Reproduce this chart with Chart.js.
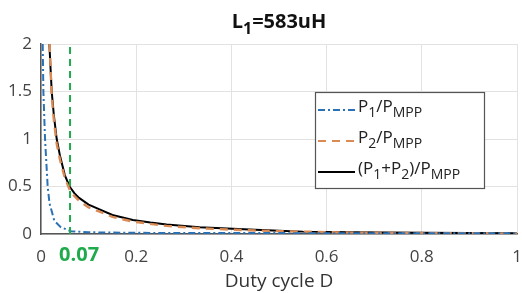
<!DOCTYPE html>
<html>
<head>
<meta charset="utf-8">
<script src="https://cdn.jsdelivr.net/npm/chart.js@4/dist/chart.umd.min.js"></script>
<style>
  html, body { margin: 0; padding: 0; background: #fff; }
  #wrap { width: 522px; height: 293px; }
</style>
</head>
<body>
<div id="wrap"><canvas id="graph" width="522" height="293"></canvas></div>
<script>
// Данные
const xTicks = [0, 0.2, 0.4, 0.6, 0.8, 1];
const yTicks = [0, 0.5, 1, 1.5, 2];
const markD = 0.061;      // зелёная пунктирная линия
const markLabel = '0.07';

const dP1 = [0.0036, 0.005, 0.0085, 0.014, 0.018, 0.028, 0.042, 0.063, 0.1, 0.2, 0.4, 0.7, 1.0];
const vP1 = [2.0, 1.5, 1.0, 0.5, 0.32, 0.14, 0.07, 0.03, 0.018, 0.012, 0.01, 0.008, 0.007];

const dP2 = [0.018, 0.0225, 0.027, 0.033, 0.04, 0.05, 0.06, 0.07, 0.08, 0.1, 0.123, 0.15, 0.193, 0.264, 0.333, 0.403, 0.5, 0.65, 0.8, 1.0];
const vP2 = [2.0, 1.45, 1.2, 0.95, 0.78, 0.59, 0.47, 0.4, 0.35, 0.28, 0.235, 0.18, 0.13, 0.085, 0.06, 0.045, 0.03, 0.015, 0.01, 0.006];

const dSum = [0.0176, 0.02, 0.0225, 0.027, 0.033, 0.04, 0.05, 0.06, 0.07, 0.08, 0.1, 0.123, 0.15, 0.193, 0.23, 0.264, 0.333, 0.403, 0.45, 0.5, 0.55, 0.65, 0.8, 1.0];
const vSum = [2.0, 1.75, 1.5, 1.25, 1.0, 0.82, 0.62, 0.5, 0.43, 0.38, 0.31, 0.26, 0.2, 0.148, 0.12, 0.1, 0.07, 0.055, 0.045, 0.035, 0.025, 0.018, 0.012, 0.008];

const FONT = "'Open Sans', 'Noto Sans', sans-serif";
const BLUE = '#2a72b5';
const ORANGE = '#d98a55';
const GREEN = '#1faa4c';

const pts = (xs, ys) => xs.map((x, i) => ({ x: x, y: ys[i] }));

// Текст с нижними индексами: [[текст, индекс?], ...]
function setFont(ctx, size, sub, bold) {
    ctx.font = (bold ? 'bold ' : '') + Math.round(sub ? size * 0.8 : size) + 'px ' + FONT;
}
function richWidth(ctx, parts, size, bold) {
    let w = 0;
    parts.forEach(p => {
        setFont(ctx, size, p[1], bold);
        w += ctx.measureText(p[0]).width;
    });
    return w;
}
function drawRich(ctx, parts, x, y, size, color, bold) {
    ctx.fillStyle = color;
    ctx.textBaseline = 'alphabetic';
    ctx.textAlign = 'left';
    parts.forEach(p => {
        setFont(ctx, size, p[1], bold);
        ctx.fillText(p[0], x, p[1] ? y + size * 0.32 : y);
        x += ctx.measureText(p[0]).width;
    });
}

const titleParts = [['L'], ['1', true], ['=583uH']];
const legendItems = [
    { parts: [['P'], ['1', true], ['/P'], ['MPP', true]], color: BLUE, dash: [7, 3, 2, 3] },
    { parts: [['P'], ['2', true], ['/P'], ['MPP', true]], color: ORANGE, dash: [8, 6] },
    { parts: [['(P'], ['1', true], ['+P'], ['2', true], [')/P'], ['MPP', true]], color: '#000', dash: [] }
];

const decorPlugin = {
    id: 'decor',
    afterDraw(chart) {
        const ctx = chart.ctx;
        const area = chart.chartArea;
        const xs = chart.scales.x;
        ctx.save();
        // заголовок
        const tw = richWidth(ctx, titleParts, 20, true);
        drawRich(ctx, titleParts, (area.left + area.right) / 2 - tw / 2, 28, 20, '#111', true);

        // зелёная подпись 0.07
        ctx.font = 'bold 20px ' + FONT;
        ctx.fillStyle = GREEN;
        ctx.textAlign = 'center';
        ctx.textBaseline = 'alphabetic';
        ctx.fillText(markLabel, xs.getPixelForValue(0.08), 261);

        // легенда
        const bx = area.left + 274, by = area.top + 48, bw = 169, bh = 96;
        ctx.fillStyle = '#fff';
        ctx.fillRect(bx, by, bw, bh);
        ctx.strokeStyle = '#555';
        ctx.lineWidth = 1.2;
        ctx.strokeRect(bx + 0.5, by + 0.5, bw, bh);
        legendItems.forEach((it, i) => {
            const ly = by + 18 + i * 31;
            ctx.beginPath();
            ctx.setLineDash(it.dash);
            ctx.strokeStyle = it.color;
            ctx.lineWidth = 2;
            ctx.moveTo(bx + 3, ly);
            ctx.lineTo(bx + 40, ly);
            ctx.stroke();
            ctx.setLineDash([]);
            drawRich(ctx, it.parts, bx + 43, ly + 2, 17, '#222', false);
        });
        ctx.restore();
    }
};

new Chart(document.getElementById('graph'), {
    type: 'line',
    data: {
        datasets: [
            {
                label: 'mark',
                data: [{ x: markD, y: 0 }, { x: markD, y: 2 }],
                borderColor: GREEN,
                borderWidth: 2,
                borderDash: [7, 5],
                pointRadius: 0
            },
            {
                label: 'P1/PMPP',
                data: pts(dP1, vP1),
                borderColor: BLUE,
                borderWidth: 2,
                borderDash: [7, 3, 2, 3],
                pointRadius: 0
            },
            {
                label: 'P2/PMPP',
                data: pts(dP2, vP2),
                borderColor: ORANGE,
                borderWidth: 2.4,
                borderDash: [8, 6],
                pointRadius: 0
            },
            {
                label: '(P1+P2)/PMPP',
                data: pts(dSum, vSum),
                borderColor: '#000',
                borderWidth: 2,
                pointRadius: 0
            }
        ]
    },
    options: {
        responsive: false,
        animation: false,
        layout: { padding: { top: 44, right: 5, left: 0, bottom: 0 } },
        scales: {
            x: {
                type: 'linear',
                min: 0,
                max: 1,
                afterBuildTicks: s => { s.ticks = xTicks.map(v => ({ value: v })); },
                afterFit: s => { s.height = 59; s.paddingLeft = 0; s.paddingRight = 0; },
                ticks: {
                    color: '#444',
                    font: { family: FONT, size: 17 },
                    maxRotation: 0,
                    padding: 13,
                    callback: v => String(v)
                },
                grid: { color: '#e2e2e2', drawTicks: false },
                border: { color: '#555', width: 1.5 },
                title: {
                    display: true,
                    text: 'Duty cycle D',
                    color: '#333',
                    font: { family: FONT, size: 19 },
                    padding: { top: 0, bottom: 0 }
                }
            },
            y: {
                min: 0,
                max: 2,
                afterBuildTicks: s => { s.ticks = yTicks.map(v => ({ value: v })); },
                afterFit: s => { s.width = 41; },
                ticks: {
                    color: '#444',
                    font: { family: FONT, size: 17 },
                    padding: 9,
                    callback: v => String(v)
                },
                grid: { color: '#e2e2e2', drawTicks: false },
                border: { color: '#555', width: 1.5 }
            }
        },
        plugins: {
            legend: { display: false },
            title: { display: false },
            tooltip: { enabled: false }
        }
    },
    plugins: [decorPlugin]
});
</script>
</body>
</html>
